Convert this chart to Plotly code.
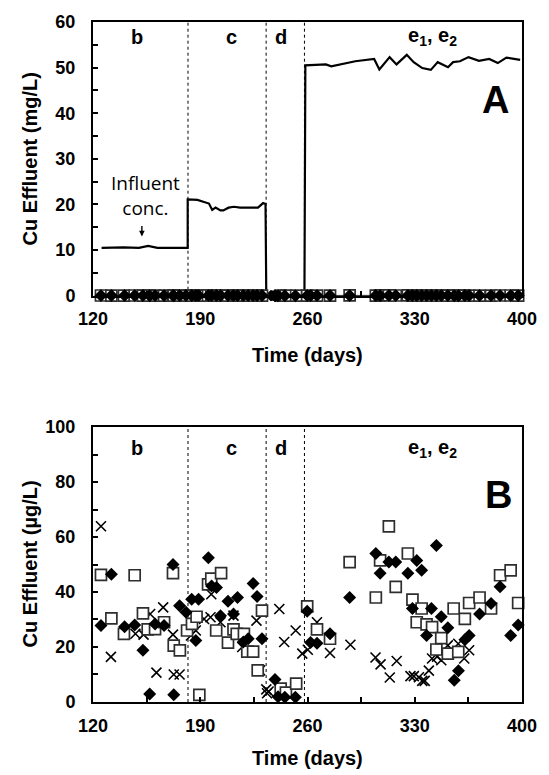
import plotly.graph_objects as go
from plotly.subplots import make_subplots

# ---------------- data ----------------
# Panel A: influent Cu concentration (mg/L)
inf_days = [125.6, 140, 150, 156, 162, 175, 181.8, 181.8, 188.2, 192, 195.7, 197.8, 200, 203.2, 205,
            208.5, 212, 216, 222, 227.7, 231, 232.6, 233.1, 258, 258.6, 272, 275.5, 291.2, 303.5,
            306.9, 313.6, 318.1, 324.8, 329.3, 334.9, 340.5, 345, 351.7, 355, 359.5, 365.1, 371.9,
            378.6, 384.2, 389.8, 394.3, 398.8]
inf_vals = [10.5, 10.6, 10.5, 10.9, 10.5, 10.5, 10.5, 21.1, 21.0, 20.6, 20.2, 18.8, 19.3, 18.7, 18.7,
            19.3, 19.5, 19.3, 19.3, 19.3, 20.3, 20.1, 0, 0, 50.5, 50.7, 50.3, 51.4, 51.9,
            49.6, 52.3, 50.7, 52.8, 51.2, 49.9, 49.5, 51.2, 50.1, 51.2, 51.4, 52.3, 51.5,
            51.9, 51.0, 52.2, 51.9, 51.7]

# Panel B: effluent Cu (ug/L), three series
sq_days = [125.2, 132, 140.2, 147.2, 152.6, 155.7, 160.5, 166.4, 172.2, 172.7, 176.7, 181.4, 184.6,
           187.6, 189.4, 195.1, 197.2, 200.4, 203.6, 208.1, 211.7, 213.8, 218.5, 220.7, 224.5, 227.5,
           230.3, 242.5, 245.9, 252.6, 259.8, 266.2, 274.7, 287.5, 304.6, 307.4, 313.1, 317.6, 325.5,
           328.5, 331.3, 334.5, 337.7, 341.3, 344.1, 347.3, 351.6, 355.4, 358.4, 362.7, 365.5, 372.3,
           379.8, 385.7, 392.6, 397.5]
sq_vals = [46.2, 30.4, 24.8, 46.1, 32.2, 26.4, 26.5, 29, 46.9, 20.5, 18.8, 26, 28.4,
           31, 2.6, 42.8, 44.9, 26, 46.9, 21.6, 26.4, 24.8, 24.8, 18.3, 18.3, 11.5,
           33.2, 4.9, 3.4, 6.7, 34.8, 26.4, 23, 50.9, 38, 51.5, 63.9, 41.9, 54,
           37.2, 29, 34, 28.2, 27.2, 19.1, 23.2, 17.6, 34, 18.2, 30.2, 36, 38,
           34, 46.1, 47.9, 36]

dm_days = [125.2, 132, 140.6, 147.2, 152.6, 157, 160.5, 166.4, 172.2, 172.7, 176.5, 180.7, 184.4,
           187.1, 188.9, 195.3, 197.4, 200.6, 203.2, 208.1, 211.7, 214.3, 218.1, 221.3, 224.5, 227.1,
           230.3, 238.8, 240.8, 245.2, 252.1, 259.8, 262, 266.2, 274.7, 287.5, 304.6, 307.4, 313.1,
           317.6, 325.5, 328.5, 331.3, 334.5, 337.7, 340.9, 344.1, 347.3, 351.6, 355.8, 358.5, 362.7,
           365.5, 372.3, 379.8, 385.7, 392.6, 397.5]
dm_vals = [27.8, 46.5, 27.4, 28, 18.8, 2.9, 28.4, 27.8, 50, 2.6, 35, 32.6, 37.4,
           22.4, 37.4, 52.5, 42.2, 41.6, 31.4, 36.6, 32, 38, 21.8, 23, 43.1, 38.4,
           23, 8.2, 1.9, 1.7, 1.7, 33, 21.6, 21.4, 24.8, 38, 54, 46.8, 50.9,
           50.9, 46.8, 34, 51.5, 47.9, 24.2, 34, 56.9, 31, 27, 7.9, 11.4, 22.6,
           24.2, 32, 35.8, 41.9, 24.2, 28]

x_days = [125.2, 131.7, 147.7, 153, 157.3, 161.4, 165.8, 172.2, 172.7, 176.5, 183.9, 187.1, 192.5,
          196.7, 197.2, 203.2, 211.7, 217.4, 226.7, 229, 233.1, 233.6, 234.6, 241.6, 244.8, 252.3,
          256.6, 260.2, 266.2, 274.7, 288, 304.4, 307.7, 313.7, 318.2, 327.2, 329.4, 332.7, 334.9,
          336.5, 339.2, 341.3, 344.6, 347.3, 351.6, 358.4, 362.3, 365.5]
x_vals = [63.9, 16.4, 24.8, 24.5, 32, 10.7, 34.4, 24.5, 10, 10, 24.2, 26, 30.2,
          30.8, 39.2, 29, 31.4, 20, 29.6, 11.5, 4.6, 3.2, 3.8, 33.8, 21.8, 26,
          17.6, 19, 29, 17.8, 20.8, 16.2, 13.7, 8.9, 14.9, 9.4, 9.4, 9, 7.7,
          7.7, 11.4, 15.8, 16.5, 15.2, 20.6, 21.2, 15.8, 18.8]

phase_bounds = [182, 233, 258]
phase_labels = ["b", "c", "d", "e<sub>1</sub>, e<sub>2</sub>"]
phase_label_x = [148.5, 210.4, 242.9, 341.5]
x_ticks = [120, 190, 260, 330, 400]

# ---------------- figure ----------------
FONT = "Liberation Sans, Arial, sans-serif"
fig = make_subplots(rows=2, cols=1, vertical_spacing=0.0)

sq_fill = dict(symbol="square", size=11, color="white", line=dict(width=1.7, color="#2e2e2e"))
dm_marker = dict(symbol="diamond", size=10, color="black", line=dict(width=0))
x_marker = dict(symbol="x-thin", size=10, color="black", line=dict(width=1.6, color="black"))

# Panel A
fig.add_trace(go.Scatter(x=inf_days, y=inf_vals, mode="lines",
                         line=dict(color="black", width=2.2), showlegend=False), row=1, col=1)
fig.add_trace(go.Scatter(x=x_days, y=[v / 1000 for v in x_vals], mode="markers", marker=x_marker,
                         cliponaxis=False, showlegend=False), row=1, col=1)
fig.add_trace(go.Scatter(x=sq_days, y=[v / 1000 for v in sq_vals], mode="lines+markers",
                         line=dict(color="black", width=1.5), marker=sq_fill,
                         cliponaxis=False, showlegend=False), row=1, col=1)
fig.add_trace(go.Scatter(x=dm_days, y=[v / 1000 for v in dm_vals], mode="markers", marker=dm_marker,
                         cliponaxis=False, showlegend=False), row=1, col=1)

# Panel B
fig.add_trace(go.Scatter(x=x_days, y=x_vals, mode="markers", marker=x_marker,
                         cliponaxis=False, showlegend=False), row=2, col=1)
fig.add_trace(go.Scatter(x=sq_days, y=sq_vals, mode="markers", marker=sq_fill,
                         cliponaxis=False, showlegend=False), row=2, col=1)
fig.add_trace(go.Scatter(x=dm_days, y=dm_vals, mode="markers", marker=dm_marker,
                         cliponaxis=False, showlegend=False), row=2, col=1)

# phase boundaries
for xr, yr in [("x", "y domain"), ("x2", "y2 domain")]:
    for b in phase_bounds:
        fig.add_shape(type="line", xref=xr, yref=yr, x0=b, x1=b, y0=0, y1=1,
                      line=dict(color="black", width=1, dash="dot"), layer="below")

axis_common = dict(showline=True, mirror=True, linecolor="black", linewidth=2,
                   showgrid=False, zeroline=False, ticks="inside", ticklen=5,
                   tickcolor="black", tickwidth=1.5,
                   tickfont=dict(family=FONT, size=18, color="black", weight="bold"))

for r in (1, 2):
    fig.update_xaxes(range=[120, 400], tickvals=x_ticks, ticklabelstandoff=6,
                     minor=dict(dtick=35, tick0=120, ticks="inside", ticklen=5, tickcolor="black"),
                     row=r, col=1, **axis_common)
fig.update_yaxes(range=[0, 60], dtick=10, ticklabelstandoff=12,
                 minor=dict(dtick=5, ticks="inside", ticklen=5, tickcolor="black"),
                 domain=[0.5975, 1.0], row=1, col=1, **axis_common)
fig.update_yaxes(range=[0, 100], dtick=20, ticklabelstandoff=12,
                 minor=dict(dtick=10, ticks="inside", ticklen=5, tickcolor="black"),
                 domain=[0.0, 0.4044], row=2, col=1, **axis_common)

ann = []
bold = dict(family=FONT, size=20, color="black", weight="bold")
# phase labels
for lab, lx in zip(phase_labels, phase_label_x):
    ann.append(dict(x=lx, y=56.8, xref="x", yref="y", text=lab, showarrow=False, font=bold))
    ann.append(dict(x=lx, y=92.2, xref="x2", yref="y2", text=lab, showarrow=False, font=bold))
# panel letters
ann.append(dict(x=383, y=43, xref="x", yref="y", text="A", showarrow=False,
                font=dict(family=FONT, size=38, color="black", weight="bold")))
ann.append(dict(x=384.7, y=75.4, xref="x2", yref="y2", text="B", showarrow=False,
                font=dict(family=FONT, size=38, color="black", weight="bold")))
# influent note
ann.append(dict(x=154.4, y=21.9, xref="x", yref="y", text="Influent<br>conc.", showarrow=False,
                font=dict(family="Open Sans, sans-serif", size=19, color="black")))
ann.append(dict(x=151.9, y=13.0, xref="x", yref="y", text="", showarrow=True, ax=0, ay=-12,
                arrowhead=2, arrowsize=0.8, arrowwidth=1.4, arrowcolor="black"))
# axis titles
for ty in (0.511, -0.0818):
    ann.append(dict(x=0.5, y=ty, xref="paper", yref="paper", text="Time (days)", showarrow=False,
                    xanchor="center", yanchor="middle", font=bold))
ann.append(dict(x=-0.146, y=0.7985, xref="paper", yref="paper", text="Cu Effluent (mg/L)",
                showarrow=False, textangle=-90, xanchor="center", yanchor="middle", font=bold))
ann.append(dict(x=-0.146, y=0.2029, xref="paper", yref="paper", text="Cu Effluent (µg/L)",
                showarrow=False, textangle=-90, xanchor="center", yanchor="middle", font=bold))

fig.update_layout(width=549, height=775, margin=dict(l=93, r=18, t=17, b=73),
                  plot_bgcolor="white", paper_bgcolor="white", annotations=ann,
                  font=dict(family=FONT, color="black"))

fig.write_html("out.html")
